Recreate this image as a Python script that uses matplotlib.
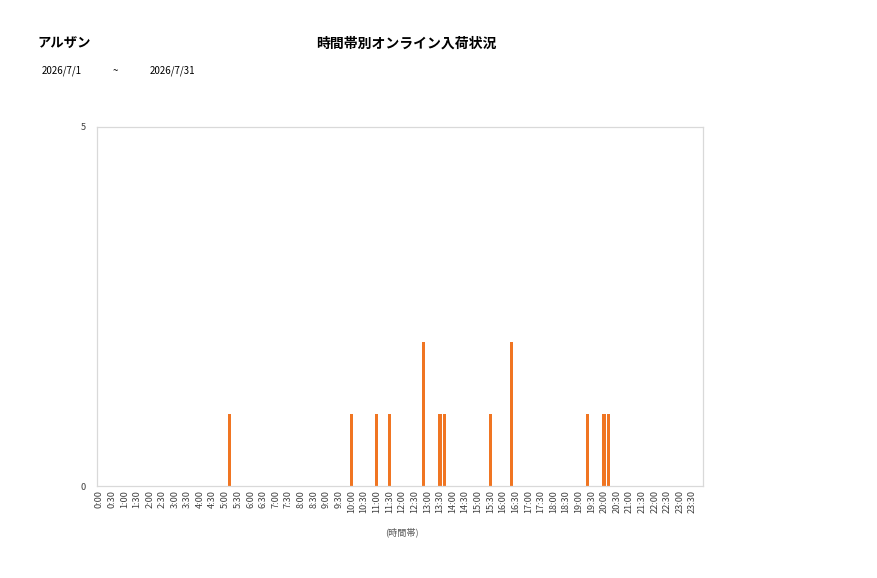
import numpy as np
import matplotlib as mpl
mpl.use('Agg')
import matplotlib.pyplot as plt

plt.rcParams['font.family'] = ['Noto Sans CJK JP', 'DejaVu Sans']

# 10-minute slots across the day
slots = ['%d:%02d' % (m // 60, m % 60) for m in range(0, 24 * 60, 10)]

# slots with arrivals and their counts
hit_slots = ['5:10', '10:00', '11:00', '11:30', '12:50', '13:30', '13:40',
             '15:30', '16:20', '19:20', '20:00', '20:10']
hit_counts = [1, 1, 1, 1, 2, 1, 1, 1, 2, 1, 1, 1]

counts = [0] * len(slots)
for s, c in zip(hit_slots, hit_counts):
    counts[slots.index(s)] = c

shop_name = 'アルザン'
chart_title = '時間帯別オンライン入荷状況'
date_from = '2026/7/1'
date_to = '2026/7/31'
x_title = '(時間帯)'

fig = plt.figure(figsize=(8.77, 5.78), dpi=100)
ax = fig.add_axes([97 / 877, 1 - 486 / 578, 606 / 877, 359 / 578])

x = np.arange(len(slots))
ax.bar(x, counts, width=0.78, color='#F07522')

ax.set_xlim(-0.5, len(slots) - 0.5)
ax.set_ylim(0, 5)
ax.set_yticks([0, 5])
ax.set_xticks(x[::3])
ax.set_xticklabels(slots[::3], rotation=90, fontsize=6.6, color='#404040')
ax.tick_params(axis='y', labelsize=6.6, colors='#404040', length=0, pad=8)
ax.tick_params(axis='x', length=0, pad=3)
for sp in ax.spines.values():
    sp.set_color('#D9D9D9')
    sp.set_linewidth(0.9)

fig.text(37 / 877, 1 - 44 / 578, shop_name, fontsize=9.6, fontweight='bold', va='center', ha='left')
fig.text(406 / 877, 1 - 44 / 578, chart_title, fontsize=10, fontweight='bold', va='center', ha='center')
fig.text(42 / 877, 1 - 71 / 578, date_from, fontsize=7, va='center', ha='left')
fig.text(115 / 877, 1 - 71 / 578, '~', fontsize=7, va='center', ha='center')
fig.text(150 / 877, 1 - 71 / 578, date_to, fontsize=7, va='center', ha='left')
fig.text(402 / 877, 1 - 532 / 578, x_title, fontsize=6.6, va='center', ha='center', color='#595959')

fig.savefig('out.png', dpi=100)
